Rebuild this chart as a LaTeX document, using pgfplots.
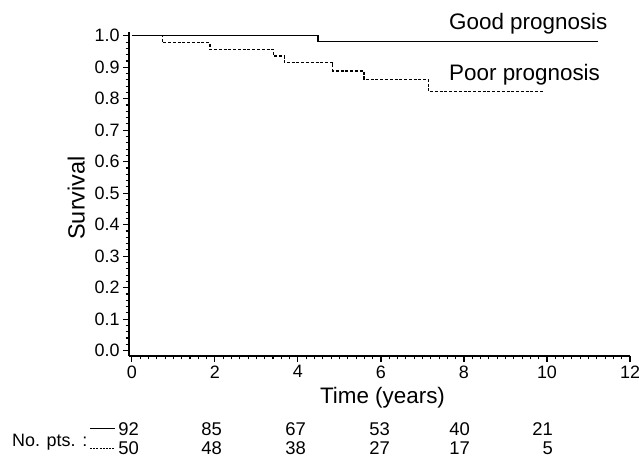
\documentclass[border=0pt]{standalone}
\usepackage{pgfplots}
\pgfplotsset{compat=1.18}
\usepackage{fontspec}
\setmainfont{Liberation Sans}
\newcommand{\fs}[1]{\fontsize{#1}{#1}\selectfont}
\begin{document}
\begin{tikzpicture}[x=1bp,y=1bp]
\useasboundingbox (0,0) rectangle (639,458);
\begin{axis}[
  at={(129bp,102bp)}, anchor=south west,
  scale only axis, width=501bp, height=324bp,
  xmin=-0.07, xmax=12.0, ymin=-0.017, ymax=1.012,
  axis x line=bottom, axis y line=left,
  axis line style={-, line width=1.4pt},
  xtick={0,2,4,6,8,10,12},
  ytick={0,0.1,0.2,0.3,0.4,0.5,0.6,0.7,0.8,0.9,1.0},
  minor x tick num=9, minor y tick num=4,
  tick align=outside,
  major tick length=6bp, minor tick length=3.5bp,
  tick style={line width=1.1pt, black},
  /pgf/number format/assume math mode=true,
  yticklabel style={font=\fs{18}, /pgf/number format/.cd, fixed, fixed zerofill, precision=1},
  xticklabel style={font=\fs{18}, /pgf/number format/.cd, fixed, precision=0},
  clip=false,
]
\addplot[const plot, black, line width=1.3pt] coordinates {
  (0,1) (4.48,0.982) (11.22,0.982)
};
\addplot[const plot, black, line width=1.3pt, dash pattern=on 3pt off 1.8pt] coordinates {
  (0,1) (0.73,0.978) (1.88,0.957) (3.41,0.936) (3.67,0.915) (4.84,0.888) (5.59,0.862) (7.14,0.823) (9.91,0.823)
};
\end{axis}
\node[anchor=base west, inner sep=0] at (449,428.7) {\fs{22.5}Good prognosis};
\node[anchor=base west, inner sep=0] at (449,377) {\fs{22.5}Poor prognosis};
\node[anchor=base, inner sep=0] at (382.5,54.7) {\fs{22.5}Time (years)};
\node[anchor=base, inner sep=0, rotate=90] at (84.5,260) {\fs{23.5}Survival};
\node[anchor=base west, inner sep=0] at (12,11) {\fs{18}No. pts. :};
\draw[line width=1pt] (90,29) -- (115,29);
\draw[line width=1pt, dash pattern=on 2pt off 1.2pt] (90,9.5) -- (115,9.5);
\foreach \xx/\a/\b in {139/92/50, 222/85/48, 306/67/38, 390/53/27, 470/40/17, 553/21/5} {
  \node[anchor=base east, inner sep=0] at (\xx,22) {\fs{18.5}\a};
  \node[anchor=base east, inner sep=0] at (\xx,3.5) {\fs{18.5}\b};
}
\end{tikzpicture}
\end{document}
